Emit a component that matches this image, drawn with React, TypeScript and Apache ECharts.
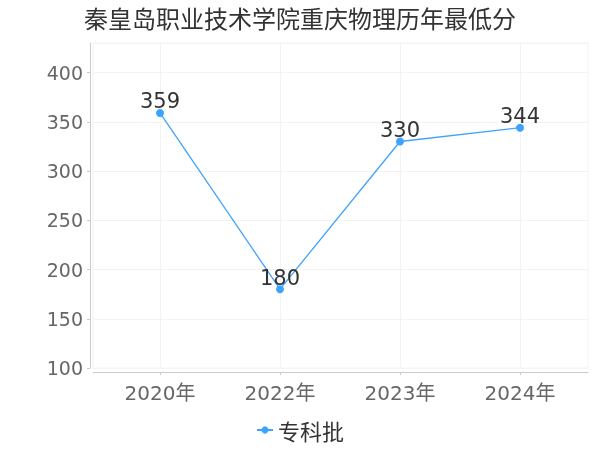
import React, { useEffect, useRef } from "react";
import * as echarts from "echarts";

const titleText = "秦皇岛职业技术学院重庆物理历年最低分";
const seriesName = "专科批";
const years = ["2020年", "2022年", "2023年", "2024年"];
const scores = [359, 180, 330, 344];
const yMin = 100;
const yMax = 430;
const yStep = 50;

const App: React.FC = () => {
  const chartRef = useRef<HTMLDivElement>(null);

  useEffect(() => {
    if (!chartRef.current) return;
    const myChart = echarts.init(chartRef.current, undefined, { renderer: "svg" });

    const option: echarts.EChartsOption = {
      animation: false,
      textStyle: {
        fontFamily: "DejaVu Sans, Noto Sans CJK SC, sans-serif",
      },
      title: {
        text: titleText,
        left: "center",
        top: 0,
        textStyle: {
          fontSize: 24,
          fontWeight: "normal",
          color: "#333",
          fontFamily: "Noto Sans CJK SC",
        },
      },
      legend: {
        bottom: 4,
        left: "center",
        itemWidth: 16,
        itemHeight: 9,
        itemGap: 4,
        textStyle: {
          fontSize: 22,
          color: "#333",
          fontFamily: "Noto Sans CJK SC",
        },
        data: [seriesName],
      },
      grid: [
        // grid holding the data points
        { left: 160, right: 80, top: 43, bottom: 82 },
        // outer frame with y axis and horizontal lines
        {
          left: 93,
          right: 12,
          top: 43,
          bottom: 82,
          show: true,
          borderColor: "#f3f3f3",
          borderWidth: 1,
          backgroundColor: "transparent",
        },
      ],
      xAxis: [
        {
          type: "category",
          gridIndex: 0,
          data: years,
          boundaryGap: false,
          offset: 4,
          axisLine: { show: false },
          axisTick: { show: true, length: 3, lineStyle: { color: "#ccc" } },
          axisLabel: { fontSize: 20, color: "#666", margin: 11 },
          splitLine: { show: true, lineStyle: { color: "#f3f3f3" } },
        },
        {
          type: "category",
          gridIndex: 1,
          data: years,
          offset: 4,
          axisLine: { show: true, lineStyle: { color: "#ccc" } },
          axisTick: { show: false },
          axisLabel: { show: false },
          splitLine: { show: false },
        },
      ],
      yAxis: [
        {
          type: "value",
          gridIndex: 0,
          min: yMin,
          max: yMax,
          show: false,
        },
        {
          type: "value",
          gridIndex: 1,
          min: yMin,
          max: yMax,
          interval: yStep,
          offset: 3,
          axisLine: { show: true, lineStyle: { color: "#ccc" } },
          axisTick: { show: true, length: 3, lineStyle: { color: "#ccc" } },
          axisLabel: { fontSize: 19, color: "#666", margin: 7, showMaxLabel: false },
          splitLine: { show: true, lineStyle: { color: "#f3f3f3" } },
        },
      ],
      series: [
        {
          name: seriesName,
          type: "line",
          xAxisIndex: 0,
          yAxisIndex: 0,
          data: scores,
          symbol: "circle",
          symbolSize: 8,
          color: "#3ea3ff",
          lineStyle: { width: 1.3, color: "#3ea3ff" },
          label: {
            show: true,
            position: "top",
            distance: -3,
            fontSize: 21,
            color: "#333",
          },
        },
      ],
    };

    myChart.setOption(option);

    return () => {
      myChart.dispose();
    };
  }, []);

  return (
    <div
      ref={chartRef}
      style={{ position: "fixed", left: 0, top: 0, width: "600px", height: "450px" }}
    />
  );
};

export default App;
